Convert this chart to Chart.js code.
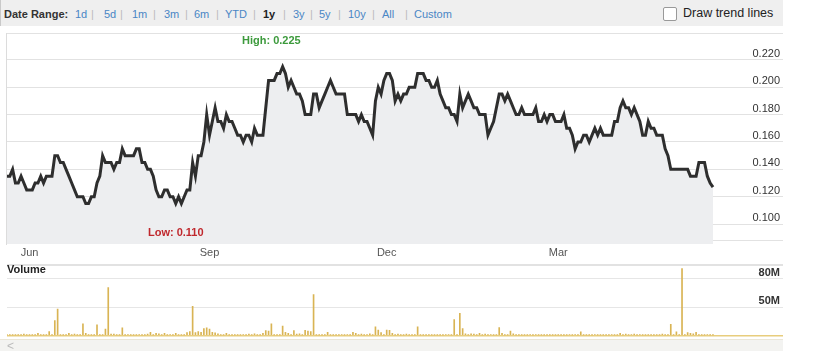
<!DOCTYPE html>
<html>
<head>
<meta charset="utf-8">
<title>1y price and volume</title>
<script src="https://cdn.jsdelivr.net/npm/chart.js@4.4.1/dist/chart.umd.min.js"></script>
<style>
  html, body { margin: 0; padding: 0; background: #fff; }
  body { width: 814px; height: 351px; position: relative; overflow: hidden;
         font-family: "Liberation Sans", Arial, sans-serif; }
  #toolbar { position: absolute; left: 0; top: 0; width: 782px; height: 26px;
             background: #efefef; border-left: 1px solid #c9c9c9; font-size: 11px; }
  #toolbar span { position: absolute; top: 7px; line-height: 14px; white-space: nowrap; }
  .lbl { color: #333; font-weight: bold; }
  .rng { color: #4a86c5; }
  .cur { color: #222; font-weight: bold; }
  .sep { color: #bbb; }
  #box { position: absolute; left: 662px; top: 7px; width: 12px; height: 12px;
         border: 1px solid #999; background: #fff; border-radius: 2px; }
  #trend { position: absolute; left: 682px; top: 6px; font-size: 12.5px; color: #222; }
  #leftBorder { position: absolute; left: 6px; top: 33px; width: 1px; height: 212px; background: #dcdcdc; }
  #priceWrap { position: absolute; left: 0; top: 27px; }
  #volWrap { position: absolute; left: 0; top: 261px; }
  #volLabel { position: absolute; left: 7px; top: 263px; font-size: 11px; line-height: 13px;
              font-weight: bold; color: #222; z-index: 2; }
  #scroll { position: absolute; left: 0; top: 339px; width: 783px; height: 12px;
            background: #f3f3f1; border-top: 1px solid #ebe6d6; }
  #scroll span { position: absolute; left: 7px; top: -1px; font-size: 12px; color: #bbb; }
</style>
</head>
<body>
<div id="toolbar">
  <span class="lbl" style="left:3px">Date Range:</span>
  <span class="rng" style="left:74px">1d</span><span class="sep" style="left:90px">|</span>
  <span class="rng" style="left:103px">5d</span><span class="sep" style="left:119px">|</span>
  <span class="rng" style="left:131px">1m</span><span class="sep" style="left:152px">|</span>
  <span class="rng" style="left:163px">3m</span><span class="sep" style="left:184px">|</span>
  <span class="rng" style="left:193px">6m</span><span class="sep" style="left:215px">|</span>
  <span class="rng" style="left:224px">YTD</span><span class="sep" style="left:252px">|</span>
  <span class="cur" style="left:262px">1y</span><span class="sep" style="left:282px">|</span>
  <span class="rng" style="left:292px">3y</span><span class="sep" style="left:309px">|</span>
  <span class="rng" style="left:318px">5y</span><span class="sep" style="left:337px">|</span>
  <span class="rng" style="left:347px">10y</span><span class="sep" style="left:371px">|</span>
  <span class="rng" style="left:381px">All</span><span class="sep" style="left:404px">|</span>
  <span class="rng" style="left:413px">Custom</span>
  <div id="box"></div>
  <div id="trend">Draw trend lines</div>
</div>
<div id="leftBorder"></div>
<div id="priceWrap"><canvas id="price" width="814" height="235"></canvas></div>
<div id="volWrap"><canvas id="volume" width="814" height="78"></canvas></div>
<div id="volLabel">Volume</div>
<div id="scroll"><span>&lt;</span></div>
<script>
// ===== Data =====
const startDate = "2011-05-19";
const holidays = ["2011-05-23", "2011-07-01", "2011-08-01", "2011-09-05", "2011-10-10",
                  "2011-12-26", "2011-12-27", "2012-01-02", "2012-02-20", "2012-04-06"];
const shownMonths = ["Jun", "Sep", "Dec", "Mar"];
const priceTicks = [0.10, 0.12, 0.14, 0.16, 0.18, 0.20, 0.22];
const volumeTicks = [50, 80];
const high = { text: "High: 0.225", index: 94 };
const low = { text: "Low: 0.110", index: 60 };

// daily close
const closes = [
  0.135, 0.135, 0.140, 0.130, 0.130, 0.135, 0.130, 0.125, 0.125, 0.125,
  0.130, 0.130, 0.135, 0.130, 0.135, 0.135, 0.135, 0.150, 0.150, 0.145,
  0.145, 0.140, 0.135, 0.130, 0.125, 0.120, 0.120, 0.120, 0.115, 0.115,
  0.120, 0.120, 0.130, 0.135, 0.150, 0.145, 0.145, 0.145, 0.140, 0.145,
  0.145, 0.155, 0.150, 0.150, 0.150, 0.150, 0.155, 0.155, 0.145, 0.145,
  0.140, 0.140, 0.135, 0.125, 0.120, 0.120, 0.125, 0.125, 0.120, 0.120,
  0.115, 0.120, 0.115, 0.120, 0.125, 0.125, 0.145, 0.135, 0.150, 0.150,
  0.160, 0.180, 0.165, 0.175, 0.185, 0.175, 0.175, 0.170, 0.180, 0.175,
  0.175, 0.170, 0.165, 0.165, 0.160, 0.165, 0.165, 0.160, 0.170, 0.165,
  0.165, 0.165, 0.185, 0.205, 0.205, 0.205, 0.210, 0.210, 0.215, 0.210,
  0.200, 0.205, 0.200, 0.195, 0.195, 0.190, 0.180, 0.180, 0.180, 0.195,
  0.195, 0.185, 0.190, 0.195, 0.200, 0.205, 0.200, 0.195, 0.195, 0.195,
  0.195, 0.180, 0.180, 0.180, 0.180, 0.175, 0.180, 0.175, 0.175, 0.170,
  0.165, 0.190, 0.200, 0.195, 0.205, 0.210, 0.210, 0.205, 0.190, 0.195,
  0.190, 0.195, 0.195, 0.200, 0.200, 0.200, 0.210, 0.210, 0.210, 0.205,
  0.205, 0.200, 0.200, 0.205, 0.195, 0.190, 0.185, 0.185, 0.180, 0.180,
  0.175, 0.195, 0.185, 0.190, 0.195, 0.190, 0.185, 0.185, 0.180, 0.180,
  0.180, 0.165, 0.170, 0.175, 0.185, 0.195, 0.195, 0.190, 0.195, 0.190,
  0.185, 0.180, 0.180, 0.185, 0.180, 0.180, 0.180, 0.180, 0.185, 0.175,
  0.175, 0.180, 0.175, 0.180, 0.180, 0.175, 0.175, 0.175, 0.180, 0.170,
  0.170, 0.165, 0.155, 0.160, 0.160, 0.165, 0.165, 0.160, 0.165, 0.170,
  0.165, 0.170, 0.165, 0.165, 0.165, 0.165, 0.175, 0.175, 0.185, 0.190,
  0.185, 0.185, 0.180, 0.185, 0.180, 0.175, 0.165, 0.165, 0.175, 0.170,
  0.170, 0.165, 0.165, 0.165, 0.155, 0.150, 0.140, 0.140, 0.140, 0.140,
  0.140, 0.140, 0.140, 0.135, 0.135, 0.135, 0.145, 0.145, 0.145, 0.135,
  0.130, 0.127
];

// daily volume, millions
const volumes = [
  20.3, 20.3, 20.3, 20.3, 20.3, 20.3, 21.3, 20.3, 20.3, 20.3,
  20.3, 22.3, 20.3, 20.3, 20.3, 24, 20.3, 35.7, 48, 20.3,
  20.3, 20.3, 22.3, 20.3, 21.3, 20.3, 20.3, 32.3, 22.3, 20.3,
  20.3, 20.3, 31.3, 20.3, 20.3, 26.7, 70.7, 21.3, 21.3, 20.3,
  20.3, 28, 20.3, 21, 20.3, 20.3, 20.3, 20.7, 20.3, 20.3,
  21.3, 23.3, 20.3, 22.3, 21.7, 20.3, 22.3, 20.3, 21, 20.3,
  22.3, 20.3, 20.3, 20.3, 23, 24, 50.7, 23, 24, 23.3,
  27.3, 28, 26.7, 23.3, 22.7, 21.7, 20.3, 20.3, 22.3, 20.3,
  20.3, 20.3, 20.3, 20.3, 21, 20.3, 21.3, 20.3, 21.7, 20.3,
  20.3, 22.3, 25, 24.7, 32.3, 20.3, 20.3, 20.3, 30, 23.3,
  22.3, 20.3, 25, 21.3, 21.7, 20.3, 25.3, 24.7, 24, 63.3,
  20.3, 20.3, 20.3, 20.3, 23.3, 20.3, 20.3, 20.3, 20.3, 20.7,
  20.3, 21, 20.3, 23.3, 22.3, 20.3, 21.3, 20.3, 21, 21.7,
  20.3, 29, 25.7, 23, 20.3, 25.7, 25.3, 22.3, 20.3, 21.3,
  20.3, 20.3, 21.3, 20.3, 20.3, 20.3, 29, 20.3, 20.3, 20.3,
  20.3, 20.3, 20.3, 20.3, 20.3, 20.3, 20.7, 20.7, 20.3, 36.7,
  20.3, 43.3, 27.3, 21.7, 20.3, 21.7, 21.3, 20.3, 22.3, 20.3,
  21.3, 20.3, 21, 20.3, 20.3, 28.3, 22.3, 20.3, 20.3, 24.7,
  21.7, 20.3, 20.3, 20.3, 20.3, 20.3, 20.7, 20.3, 20.7, 20.3,
  20.3, 20.3, 20.3, 20.3, 20.3, 20.3, 20.3, 20.3, 20.3, 20.3,
  21, 20.3, 21, 20.3, 23.7, 20.3, 20.3, 20.3, 20.3, 21,
  20.3, 20.3, 20.3, 20.3, 20.3, 20.7, 20.3, 20.3, 22.3, 20.3,
  21.3, 20.3, 21, 21.3, 20.3, 21, 20.3, 20.3, 20.3, 20.3,
  20.3, 20.3, 20.3, 21.3, 20.3, 20.3, 31.7, 20.3, 23.7, 20.3,
  90.7, 20.3, 23, 22.3, 21.7, 23.3, 20.3, 20.3, 20.3, 21,
  20.3, 20.3
];

// ===== Trading days =====
const monthNames = ["Jan", "Feb", "Mar", "Apr", "May", "Jun", "Jul", "Aug", "Sep", "Oct", "Nov", "Dec"];
const dates = [];
let d = new Date(startDate + "T00:00:00Z");
while (dates.length < closes.length) {
  const iso = d.toISOString().slice(0, 10);
  const wd = d.getUTCDay();
  if (wd !== 0 && wd !== 6 && !holidays.includes(iso)) dates.push(new Date(d));
  d.setUTCDate(d.getUTCDate() + 1);
}
const monthTicks = [];
dates.forEach((dt, i) => {
  if (i > 0 && dt.getUTCMonth() !== dates[i - 1].getUTCMonth() &&
      shownMonths.includes(monthNames[dt.getUTCMonth()])) monthTicks.push(i);
});

// ===== Shared settings =====
Chart.defaults.font.family = '"Liberation Sans", Arial, sans-serif';
Chart.defaults.font.size = 11;
const xMax = 275.9;
const priceMin = 0.08545, priceMax = 0.23964, priceFloor = 0.08785;
const volMin = 20, volMax = 95;
const noWidth = s => { s.width = 0; };

// High / Low text
const highLowPlugin = {
  id: "highLow",
  afterDatasetsDraw(chart) {
    const { ctx, chartArea, scales } = chart;
    ctx.save();
    ctx.font = 'bold 11px "Liberation Sans", Arial, sans-serif';
    ctx.textAlign = "center";
    ctx.textBaseline = "middle";
    ctx.fillStyle = "#3c9a3c";
    ctx.fillText(high.text, scales.x.getPixelForValue(high.index), chartArea.top + 8);
    ctx.fillStyle = "#c0282d";
    ctx.fillText(low.text, scales.x.getPixelForValue(low.index), chartArea.bottom - 11);
    ctx.restore();
  }
};

// ===== Price chart =====
new Chart(document.getElementById("price"), {
  type: "line",
  data: {
    datasets: [{
      data: closes.map((v, i) => ({ x: i, y: v })),
      borderColor: "#2e2e2e",
      borderWidth: 3,
      backgroundColor: "#edeef0",
      fill: "start",
      pointRadius: 0,
      tension: 0
    }]
  },
  options: {
    responsive: false,
    animation: false,
    layout: { padding: { left: 7, right: 31, top: 6, bottom: 1 } },
    plugins: { legend: { display: false }, tooltip: { enabled: false } },
    scales: {
      x: {
        type: "linear", min: 0, max: xMax, offset: false,
        grid: { display: false, drawTicks: false, tickLength: 0 }, border: { display: false },
        afterBuildTicks: s => { s.ticks = monthTicks.map(v => ({ value: v })); },
        afterFit: s => { s.height = 17; },
        ticks: {
          autoSkip: false, maxRotation: 0, padding: 2, color: "#555",
          callback: v => monthNames[dates[v].getUTCMonth()]
        }
      },
      y: {
        position: "right", min: priceMin, max: priceMax,
        afterFit: noWidth,
        afterBuildTicks: s => {
          s.ticks = [priceFloor, ...priceTicks, priceMax].map(v => ({ value: v }));
        },
        grid: { color: "#e2e2e2", drawTicks: false },
        border: { display: false },
        ticks: {
          mirror: true, padding: -3, labelOffset: -6, color: "#333",
          callback: v => priceTicks.includes(v) ? v.toFixed(3) : ""
        }
      }
    }
  },
  plugins: [highLowPlugin]
});

// ===== Volume chart =====
new Chart(document.getElementById("volume"), {
  type: "bar",
  data: {
    datasets: [{
      data: volumes.map((v, i) => ({ x: i, y: v })),
      backgroundColor: "#d9b454",
      barThickness: 1,
      base: volMin
    }]
  },
  options: {
    responsive: false,
    animation: false,
    layout: { padding: { left: 7, right: 31, top: 1.5, bottom: 1.5 } },
    plugins: { legend: { display: false }, tooltip: { enabled: false } },
    scales: {
      x: { type: "linear", min: 0, max: xMax, offset: false, display: false },
      y: {
        position: "right", min: volMin, max: volMax,
        afterFit: noWidth,
        afterBuildTicks: s => {
          s.ticks = [volMin, ...volumeTicks, volMax].map(v => ({ value: v }));
        },
        grid: {
          drawTicks: false,
          color: c => c.tick.value === volMin ? "#e8cd7d" : (c.tick.value === volMax ? "#e2e2e2" : "#e6e6e6"),
          lineWidth: c => c.tick.value === volMax ? 2 : (c.tick.value === volMin ? 1.5 : 1)
        },
        border: { display: false },
        ticks: {
          mirror: true, padding: -3, labelOffset: -6, color: "#333",
          font: { weight: "bold" },
          callback: v => volumeTicks.includes(v) ? v + "M" : ""
        }
      }
    }
  }
});
</script>
</body>
</html>
